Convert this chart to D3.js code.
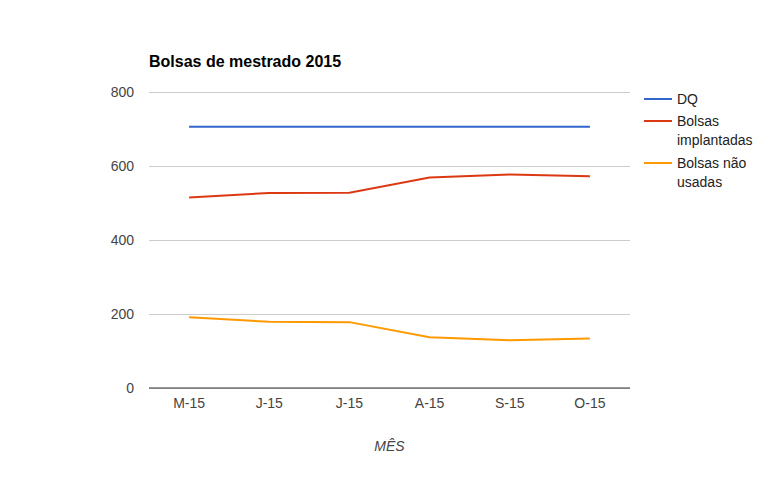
<!DOCTYPE html>
<html>
<head>
<meta charset="utf-8">
<script src="https://cdn.jsdelivr.net/npm/d3@7"></script>
<style>
  body { margin: 0; background: #fff; }
  text { font-family: "Liberation Sans", Arial, sans-serif; }
</style>
</head>
<body>
<svg id="chart"></svg>
<script>
var months = ["M-15", "J-15", "J-15", "A-15", "S-15", "O-15"];
var dq = [706, 706, 706, 706, 706, 706];
var implantadas = [515, 527, 528, 569, 577, 572];
var naoUsadas = [191, 179, 178, 137, 129, 134];
var yTicks = [0, 200, 400, 600, 800];

var seriesNames = ["DQ", ["Bolsas", "implantadas"], ["Bolsas não", "usadas"]];
var seriesColors = ["#3366cc", "#dc3912", "#ff9900"];
var seriesData = [dq, implantadas, naoUsadas];

var margin = {top: 92, right: 148, bottom: 93, left: 149},
    width = 778 - margin.left - margin.right,
    height = 481 - margin.top - margin.bottom;

var svg = d3.select("#chart")
    .attr("width", 778)
    .attr("height", 481);

var g = svg.append("g")
    .attr("transform", "translate(" + margin.left + "," + margin.top + ")");

// title
svg.append("text")
    .attr("x", 149)
    .attr("y", 67)
    .style("font-size", "16px")
    .style("font-weight", "bold")
    .attr("fill", "#000")
    .text("Bolsas de mestrado 2015");

var xScale = d3.scaleBand()
    .domain(d3.range(months.length))
    .range([0, width]);

var yScale = d3.scaleLinear()
    .domain([0, 800])
    .range([height, 0]);

// y grid + labels
var yAxis = g.append("g")
    .call(d3.axisLeft(yScale)
        .tickValues(yTicks)
        .tickSize(-width)
        .tickPadding(15)
    );
yAxis.select(".domain").remove();
yAxis.selectAll(".tick line")
    .attr("stroke", "#cccccc");
yAxis.selectAll(".tick text")
    .attr("fill", "#444")
    .style("font-size", "14px");

// baseline
g.append("line")
    .attr("x1", 0)
    .attr("x2", width)
    .attr("y1", yScale(0))
    .attr("y2", yScale(0))
    .attr("stroke", "#333")
    .attr("stroke-width", 1);

// x labels
var xAxis = g.append("g")
    .attr("transform", "translate(0," + height + ")")
    .call(d3.axisBottom(xScale)
        .tickSize(0)
        .tickPadding(10)
        .tickFormat(function(i) { return months[i]; })
    );
xAxis.select(".domain").remove();
xAxis.selectAll(".tick text")
    .attr("fill", "#444")
    .style("font-size", "14px");

// x axis title
svg.append("text")
    .attr("x", margin.left + width / 2)
    .attr("y", 451)
    .attr("text-anchor", "middle")
    .style("font-size", "14px")
    .style("font-style", "italic")
    .attr("fill", "#444")
    .text("MÊS");

// lines
var line = d3.line()
    .x(function(d, i) { return xScale(i) + xScale.bandwidth() / 2; })
    .y(function(d) { return yScale(d); });

seriesData.forEach(function(s, k) {
    g.append("path")
        .datum(s)
        .attr("fill", "none")
        .attr("stroke", seriesColors[k])
        .attr("stroke-width", 2)
        .attr("d", line);
});

// legend
var legendY = [99, 121, 163];
seriesNames.forEach(function(name, k) {
    var lg = svg.append("g")
        .attr("transform", "translate(644," + legendY[k] + ")");
    lg.append("line")
        .attr("x1", 0).attr("x2", 28)
        .attr("y1", 0).attr("y2", 0)
        .attr("stroke", seriesColors[k])
        .attr("stroke-width", 2);
    var lines = Array.isArray(name) ? name : [name];
    var t = lg.append("text")
        .attr("x", 33)
        .attr("y", 5)
        .style("font-size", "14px")
        .attr("fill", "#222");
    lines.forEach(function(l, j) {
        t.append("tspan")
            .attr("x", 33)
            .attr("dy", j === 0 ? 0 : 19)
            .text(l);
    });
});
</script>
</body>
</html>
